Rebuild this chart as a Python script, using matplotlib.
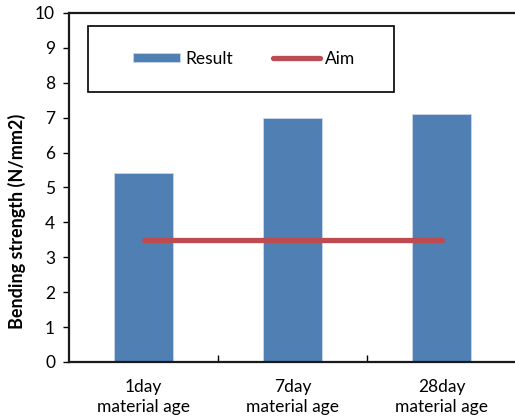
import matplotlib
matplotlib.use("Agg")
import matplotlib.pyplot as plt
from matplotlib.patches import Rectangle
import numpy as np

plt.rcParams['font.family'] = ['Lato', 'DejaVu Sans']

categories = ["1day\nmaterial age", "7day\nmaterial age", "28day\nmaterial age"]
result = [5.4, 7.0, 7.1]
aim = [3.5, 3.5, 3.5]

bar_color = "#4F7FB3"
aim_color = "#BE4B4F"

fig = plt.figure(figsize=(5.15, 4.16), dpi=100)
ax = fig.add_axes([0.134, 0.13, 0.868, 0.839])

x = np.arange(len(categories))
bars = ax.bar(x, result, width=0.4, color=bar_color, edgecolor="#C9D7EA", linewidth=0.6,
              label="Result", zorder=2)
line, = ax.plot(x, aim, color=aim_color, linewidth=3.8, solid_capstyle="round",
                label="Aim", zorder=3)

ax.set_xlim(-0.5, 2.5)
ax.set_ylim(0, 10)
ax.set_yticks(range(0, 11))
ax.tick_params(axis="y", direction="out", length=4, width=1, labelsize=12.5, pad=6)
ax.set_xticks([0.5, 1.5])
ax.set_xticklabels([])
ax.tick_params(axis="x", direction="in", length=5, width=1)
for xi, lab in zip(x, categories):
    ax.text(xi, -0.5, lab, ha="center", va="top", fontsize=12.5,
            linespacing=1.25, transform=ax.transData, clip_on=False)

for s in ["left", "bottom", "top"]:
    ax.spines[s].set_linewidth(1.6)
    ax.spines[s].set_color("#1a1a1a")
ax.spines["right"].set_visible(False)

ax.set_ylabel("Bending strength (N/mm2)", fontsize=13, fontweight="bold")
ax.yaxis.set_label_coords(-0.097, 0.404)

# legend with a plain square frame
ax.add_patch(Rectangle((0.043, 0.774), 0.683, 0.189, transform=ax.transAxes,
                       fill=False, edgecolor="black", linewidth=1.2, zorder=4))
leg = ax.legend(handles=[bars, line], labels=["Result", "Aim"],
                loc="center", bbox_to_anchor=(0.392, 0.8685), ncol=2, frameon=False,
                fontsize=12.5, handlelength=2.7, handleheight=0.45, handletextpad=0.3,
                columnspacing=2.3)

fig.savefig("out.png", dpi=100)
